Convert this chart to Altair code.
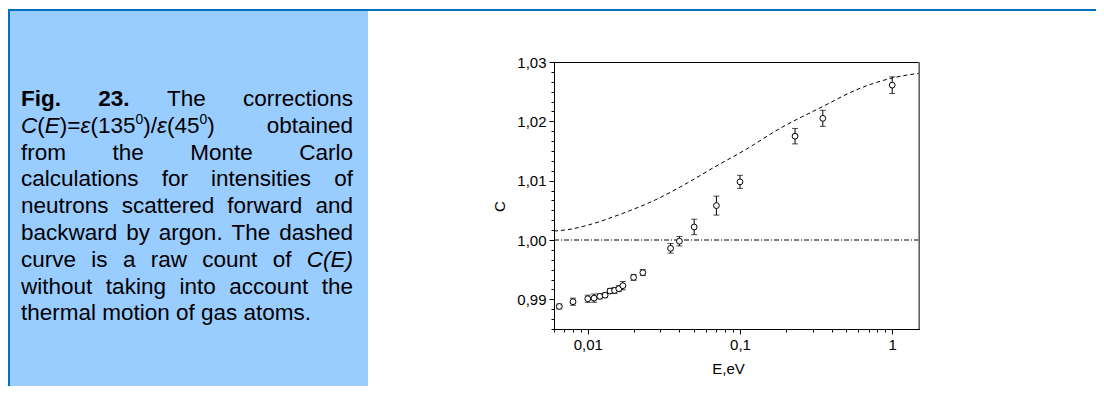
import altair as alt
import pandas as pd

# ---------------- data ----------------
E_obs = [0.0065, 0.0080, 0.0100, 0.0110, 0.0120, 0.0130, 0.0140, 0.0150, 0.0160, 0.0170,
         0.0200, 0.0230, 0.0350, 0.0400, 0.0500, 0.0700, 0.1000, 0.2300, 0.3500, 1.0000]
C_obs = [0.9888, 0.9896, 0.9901, 0.9902, 0.9905, 0.9907, 0.9914, 0.9915, 0.9918, 0.9923,
         0.9937, 0.9945, 0.9986, 0.9998, 1.0022, 1.0058, 1.0098, 1.0175, 1.0205, 1.0261]
C_err = [0.0004, 0.0006, 0.0006, 0.0007, 0.0004, 0.0004, 0.0004, 0.0005, 0.0005, 0.0007,
         0.0005, 0.0005, 0.0008, 0.0008, 0.0013, 0.0016, 0.0011, 0.0013, 0.00135, 0.0014]

E_raw = [0.006, 0.008, 0.010, 0.017, 0.028, 0.045, 0.066, 0.11, 0.18, 0.35, 0.58, 1.0, 1.5]
C_raw = [1.0015, 1.0019, 1.0025, 1.0045, 1.0068, 1.0096, 1.0121, 1.0153, 1.0187, 1.0225,
         1.0253, 1.0273, 1.0281]

C_ref = [1.0]

x_domain = [0.006, 1.5]
y_domain = [0.985, 1.03]
y_ticks = [round(0.985 + i / 600.0, 6) for i in range(28)]
x_ticks = [round(m * 10.0 ** e, 6) for e in (-3, -2, -1) for m in range(1, 10)
           if m * 10.0 ** e >= 0.006 - 1e-9] + [1.0]

caption_text = [
    "Fig.|23.|The|corrections",
    "C(E)=ε(135⁰)/ε(45⁰)|obtained",
    "from|the|Monte|Carlo",
    "calculations|for|intensities|of",
    "neutrons|scattered|forward|and",
    "backward|by|argon.|The|dashed",
    "curve|is|a|raw|count|of|C(E)",
    "without|taking|into|account|the",
    "thermal|motion|of|gas|atoms.",
]

# ---------------- layout ----------------
W, H = 365, 267
PAD = {"left": 546, "top": 54, "right": 177, "bottom": 57}
FONT = "Liberation Sans"
FS = 22.5
SUP = 14
TXT_L, TXT_R = -533, -201
BASE0, LEAD = 44, 26.8

REG = {' ': 278, '(': 333, ')': 333, ',': 278, '.': 278, '/': 278, '=': 584,
       'A': 667, 'B': 667, 'C': 722, 'D': 722, 'E': 667, 'F': 611, 'G': 778, 'H': 722,
       'I': 278, 'M': 833, 'N': 722, 'O': 778, 'P': 667, 'R': 722, 'S': 667, 'T': 611,
       'a': 556, 'b': 556, 'c': 500, 'd': 556, 'e': 556, 'f': 278, 'g': 556, 'h': 556,
       'i': 222, 'j': 222, 'k': 500, 'l': 222, 'm': 833, 'n': 556, 'o': 556, 'p': 556,
       'q': 556, 'r': 333, 's': 500, 't': 278, 'u': 556, 'v': 500, 'w': 722, 'x': 500,
       'y': 500, 'z': 500, 'ε': 446}
for d in "0123456789":
    REG[d] = 556
BOLD = dict(REG)
BOLD.update({'g': 611, 'i': 278})


def seg_width(t, style):
    if style == "s":
        return sum(REG.get(c, 556) for c in t) / 1000.0 * SUP
    tab = BOLD if style == "b" else REG
    return sum(tab.get(c, 556) for c in t) / 1000.0 * FS


def split_word(w, line_idx):
    if line_idx == 0 and w in ("Fig.", "23."):
        return [(w, "b")]
    if w == "C(E)" and line_idx == 6:
        return [(w, "i")]
    if line_idx == 1 and w.startswith("C(E)"):
        return [("C", "i"), ("(", "n"), ("E", "i"), (")=", "n"), ("ε", "i"), ("(135", "n"),
                ("0", "s"), (")/", "n"), ("ε", "i"), ("(45", "n"), ("0", "s"), (")", "n")]
    return [(w, "n")]


rows = []
for li, line in enumerate(caption_text):
    words = [split_word(w, li) for w in line.split("|")]
    widths = [sum(seg_width(t, s) for t, s in wd) for wd in words]
    justify = li < len(caption_text) - 1
    if justify and len(words) > 1:
        gap = (TXT_R - TXT_L - sum(widths)) / (len(words) - 1)
    else:
        gap = REG[' '] / 1000.0 * FS
    x = TXT_L
    yb = BASE0 + li * LEAD
    for wd, ww in zip(words, widths):
        xx = x
        for t, s in wd:
            rows.append({"t": t, "px": xx, "py": yb - (9 if s == "s" else 0), "s": s})
            xx += seg_width(t, s)
        x += ww + gap
cap_df = pd.DataFrame(rows)

# ---------------- chart ----------------
obs = pd.DataFrame({"E": E_obs, "C": C_obs, "err": C_err})
obs["lo"] = obs["C"] - obs["err"]
obs["hi"] = obs["C"] + obs["err"]
raw = pd.DataFrame({"E": E_raw, "C": C_raw})
ref = pd.DataFrame({"C": C_ref})
one = pd.DataFrame({"k": [0]})

ymajor = "abs(datum.value*100 - round(datum.value*100)) < 1e-6"
xmajor = "abs(log(datum.value)/LN10 - round(log(datum.value)/LN10)) < 1e-6"

xscale = alt.Scale(type="log", domain=x_domain, nice=False)
yscale = alt.Scale(domain=y_domain, nice=False, zero=False)

xaxis = alt.Axis(values=x_ticks, title="E,eV", grid=False, labelOverlap=False, labelFlush=False,
                 labelExpr=f"{xmajor} ? replace(format(datum.value, '~g'), '.', ',') : ''",
                 tickSize={"condition": {"test": xmajor, "value": 5}, "value": 3},
                 labelPadding=3, titleX=174, titleY=39, titleBaseline="middle")
yaxis = alt.Axis(values=y_ticks, title="C", grid=False, labelOverlap=False,
                 labelExpr=f"{ymajor} ? replace(format(datum.value, '.2f'), '.', ',') : ''",
                 tickSize={"condition": {"test": ymajor, "value": 5}, "value": 3},
                 labelPadding=3, titleX=-55, titleY=144, titleBaseline="middle")

panel = alt.Chart(one).mark_rect(color="#99CCFF").encode(
    x=alt.value(-545), x2=alt.value(-186), y=alt.value(-51), y2=alt.value(324))
top_line = alt.Chart(one).mark_rule(color="#0070C0", strokeWidth=2).encode(
    x=alt.value(-546), x2=alt.value(542), y=alt.value(-52))
left_line = alt.Chart(one).mark_rule(color="#0070C0", strokeWidth=2).encode(
    x=alt.value(-545), y=alt.value(-53), y2=alt.value(324))


def cap_layer(style, **kw):
    return alt.Chart(cap_df).transform_filter(alt.datum.s == style).mark_text(
        align="left", baseline="alphabetic", font=FONT, color="black", **kw).encode(
        x=alt.X("px:Q", scale=None, axis=None),
        y=alt.Y("py:Q", scale=None, axis=None),
        text="t:N")


cap_n = cap_layer("n", fontSize=FS)
cap_i = cap_layer("i", fontSize=FS, fontStyle="italic")
cap_b = cap_layer("b", fontSize=FS, fontWeight="bold")
cap_s = cap_layer("s", fontSize=SUP)

ref_line = alt.Chart(ref).mark_rule(color="black", strokeWidth=1, strokeDash=[5, 2, 1, 2]).encode(
    y=alt.Y("C:Q", scale=yscale, axis=yaxis))
curve = alt.Chart(raw).mark_line(color="black", strokeWidth=1, strokeDash=[4, 3],
                                 interpolate="monotone", clip=True).encode(
    x=alt.X("E:Q", scale=xscale, axis=xaxis),
    y=alt.Y("C:Q", scale=yscale, axis=yaxis))
bars = alt.Chart(obs).mark_rule(color="black", strokeWidth=1).encode(
    x=alt.X("E:Q", scale=xscale, axis=xaxis),
    y=alt.Y("lo:Q", scale=yscale, axis=yaxis), y2="hi:Q")
cap_lo = alt.Chart(obs).mark_tick(color="black", orient="horizontal", size=6, thickness=1).encode(
    x=alt.X("E:Q", scale=xscale, axis=xaxis),
    y=alt.Y("lo:Q", scale=yscale, axis=yaxis))
cap_hi = alt.Chart(obs).mark_tick(color="black", orient="horizontal", size=6, thickness=1).encode(
    x=alt.X("E:Q", scale=xscale, axis=xaxis),
    y=alt.Y("hi:Q", scale=yscale, axis=yaxis))
points = alt.Chart(obs).mark_point(shape="circle", filled=True, fill="white", stroke="black",
                                   strokeWidth=1, size=34, opacity=1).encode(
    x=alt.X("E:Q", scale=xscale, axis=xaxis),
    y=alt.Y("C:Q", scale=yscale, axis=yaxis))
right_edge = alt.Chart(one).mark_rule(color="#808080", strokeWidth=1.5).encode(
    x=alt.value(W), y=alt.value(0), y2=alt.value(H))

chart = alt.layer(
    panel, top_line, left_line, cap_n, cap_i, cap_b, cap_s,
    ref_line, curve, bars, cap_lo, cap_hi, points, right_edge
).properties(
    width=W, height=H, padding=PAD, autosize=alt.AutoSizeParams(type="none"),
    background="white"
).configure_view(
    stroke="black", strokeWidth=1
).configure_axis(
    domainColor="black", tickColor="black", labelColor="black", titleColor="black",
    labelFont=FONT, titleFont=FONT, labelFontSize=15, titleFontSize=15,
    titleFontWeight="normal", domainWidth=1, tickWidth=1
)

chart.save("out.html", embed_options={"renderer": "svg", "actions": False})
